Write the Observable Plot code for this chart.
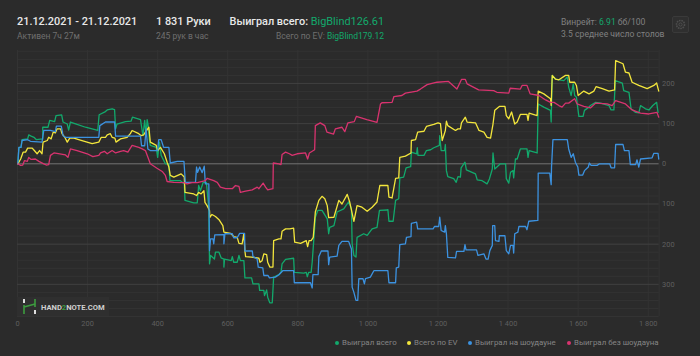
<!DOCTYPE html>
<html><head><meta charset="utf-8">
<script src="https://cdn.jsdelivr.net/npm/d3@7"></script>
<script src="https://cdn.jsdelivr.net/npm/@observablehq/plot@0.6"></script>
<style>
html,body{margin:0;padding:0;background:#2b2b2b;width:700px;height:356px;overflow:hidden;font-family:Roboto,sans-serif}
#chart{position:absolute;left:0;top:0}
.t{position:absolute;white-space:nowrap;line-height:1}
.big{font-size:10.9px;font-weight:500;color:#e8e8e8}
.sm{font-size:8.5px;color:#6f6f6f}
.r{font-size:8.6px;color:#808080}
.g{color:#12a96c}
.leg{font-size:7.9px;color:#858585}
.dot{position:absolute;width:4px;height:4px;border-radius:50%;top:341px}
</style></head><body>
<div id="chart"></div>
<script>
const xTicks=[0,200,400,600,800,1000,1200,1400,1600,1800];
const yTicks=[-300,-200,-100,0,100,200];
const yMinor=[-380,-360,-340,-320,-280,-260,-240,-220,-180,-160,-140,-120,-80,-60,-40,-20,20,40,60,80,120,140,160,180,220,240,260,280];

const greenHands=[1,4,10,13,29,32,39,47,54,72,72,87,92,106,110,126,130,142,146,151,170,194,229,233,251,256,270,277,280,284,308,324,328,351,358,363,367,370,373,376,379,396,400,405,410,422,432,435,465,476,478,503,513,517,522,530,539,546,548,551,562,565,575,581,589,589,591,610,613,617,627,632,636,646,649,668,672,689,691,703,705,711,714,720,727,731,736,746,752,755,765,788,790,817,824,827,831,838,841,846,850,857,869,884,888,891,903,912,931,945,953,955,960,966,969,988,998,1012,1026,1033,1055,1057,1060,1072,1079,1088,1091,1102,1109,1122,1124,1139,1141,1143,1160,1167,1179,1188,1204,1205,1209,1219,1221,1224,1228,1245,1252,1257,1264,1266,1277,1281,1307,1312,1326,1340,1347,1355,1357,1362,1378,1393,1395,1402,1407,1414,1416,1421,1426,1435,1454,1457,1460,1483,1486,1502,1521,1523,1526,1535,1559,1569,1573,1580,1586,1590,1595,1602,1614,1618,1631,1635,1650,1664,1688,1694,1702,1706,1726,1730,1745,1751,1764,1773,1778,1792,1802,1813,1824,1828];
const greenWon=[0,41,41,60,62,72,69,66,60,62,91,91,108,105,120,122,104,99,84,104,98,91,83,122,130,134,137,135,87,99,105,106,116,110,70,108,70,110,95,62,46,41,16,54,21,0,0,-42,-42,-50,-91,-97,-97,-54,-67,-46,-46,-112,-249,-228,-237,-220,-220,-234,-237,-257,-237,-241,-231,-245,-245,-228,-241,-241,-284,-284,-299,-299,-315,-315,-328,-314,-332,-346,-346,-282,-280,-276,-270,-249,-238,-235,-270,-272,-270,-281,-270,-270,-245,-183,-133,-116,-116,-137,-174,-158,-154,-120,-112,-95,-112,-199,-228,-232,-183,-174,-178,-162,-158,-116,-115,-114,-143,-143,-91,-87,-35,-33,-10,-7,29,25,40,21,21,33,35,40,46,70,33,33,48,-17,-32,-37,-46,-32,-33,-10,4,-15,-25,-40,-42,-50,-37,-13,27,-13,0,0,-37,-48,-21,-17,-35,12,12,37,37,16,33,27,149,141,133,104,220,211,207,216,191,170,199,170,166,118,118,133,141,145,153,151,145,134,134,207,201,182,178,137,128,127,145,137,134,145,153,128];

const yellowHands=[1,9,16,23,29,42,48,56,63,70,73,85,89,96,102,108,113,123,127,135,142,149,161,184,213,232,239,251,256,265,270,278,281,294,313,322,327,346,353,360,365,375,379,396,400,408,419,427,432,436,446,467,476,478,503,511,517,524,532,535,541,548,549,555,565,575,586,589,608,617,627,632,641,646,649,651,668,689,692,698,703,711,714,720,729,731,746,752,755,765,777,788,791,808,824,828,832,838,844,850,860,869,877,884,888,903,917,926,941,948,960,969,983,998,1012,1026,1034,1055,1057,1060,1069,1079,1088,1091,1107,1123,1124,1136,1142,1160,1167,1188,1200,1207,1212,1221,1224,1228,1250,1257,1264,1267,1278,1283,1307,1317,1331,1340,1350,1357,1362,1376,1391,1395,1402,1410,1419,1426,1435,1454,1457,1460,1483,1486,1502,1521,1523,1526,1535,1545,1564,1573,1576,1590,1595,1600,1616,1631,1645,1651,1669,1688,1704,1707,1728,1735,1745,1754,1773,1797,1816,1824,1830];
const yellowEv=[0,12,29,29,39,39,33,25,33,25,54,58,66,62,79,77,87,87,75,66,54,64,64,58,50,54,66,66,72,75,66,64,54,62,66,75,83,75,70,72,79,91,54,46,33,41,25,4,-8,-29,-33,-25,-33,-71,-75,-79,-71,-75,-67,-96,-104,-116,-133,-126,-131,-139,-154,-170,-173,-181,-183,-198,-199,-174,-217,-231,-232,-235,-245,-241,-224,-226,-245,-257,-257,-191,-187,-187,-168,-162,-162,-160,-195,-198,-191,-206,-191,-191,-183,-120,-91,-81,-87,-104,-134,-133,-91,-100,-76,-95,-143,-104,-108,-118,-108,-95,-54,-54,-54,-83,-85,-36,-35,16,19,27,58,60,79,81,93,98,102,100,58,83,106,95,83,87,87,102,116,104,102,83,79,66,64,99,133,143,143,120,112,129,99,104,123,123,108,126,120,181,174,162,145,220,211,209,220,220,203,203,195,170,181,174,181,192,187,181,184,257,249,228,226,203,195,187,195,201,181];

const blueHands=[1,4,10,13,29,37,70,75,89,94,108,111,125,130,137,151,232,235,251,277,280,322,351,354,363,367,372,379,400,403,410,417,432,436,456,475,479,508,511,514,520,527,533,536,546,548,551,558,560,563,589,589,592,613,617,627,634,648,649,670,672,684,687,700,703,715,719,736,746,757,788,790,836,841,843,858,860,867,886,888,891,912,917,926,945,953,955,960,966,971,974,986,990,993,1007,1017,1055,1057,1060,1079,1081,1088,1091,1107,1110,1123,1124,1139,1142,1186,1190,1202,1205,1209,1219,1221,1224,1228,1250,1253,1274,1277,1280,1310,1314,1331,1337,1343,1348,1355,1356,1362,1364,1374,1375,1391,1395,1402,1407,1414,1416,1419,1428,1431,1450,1454,1459,1485,1486,1519,1523,1524,1528,1569,1573,1580,1586,1592,1599,1602,1613,1618,1629,1632,1637,1654,1661,1690,1694,1704,1707,1728,1732,1745,1749,1764,1768,1773,1778,1811,1816,1828,1830];
const blueShowdown=[0,41,41,58,60,56,54,83,83,83,80,94,94,70,66,66,66,95,104,104,69,69,69,45,45,87,37,33,33,60,60,41,41,2,6,6,-46,-46,-8,-21,-8,-22,-6,-50,-50,-216,-187,-187,-199,-177,-176,-199,-174,-174,-184,-184,-173,-173,-217,-217,-231,-237,-257,-259,-278,-278,-284,-282,-276,-266,-266,-296,-296,-309,-276,-276,-231,-217,-217,-251,-232,-230,-203,-193,-193,-212,-307,-320,-340,-340,-286,-286,-299,-286,-282,-266,-266,-266,-296,-296,-259,-257,-201,-199,-183,-181,-148,-145,-162,-162,-156,-156,-133,-166,-170,-154,-174,-233,-234,-218,-218,-201,-214,-214,-228,-224,-237,-237,-216,-203,-154,-154,-191,-193,-179,-179,-216,-224,-203,-203,-222,-174,-170,-156,-156,-164,-143,-141,-23,-23,-52,-8,60,60,37,16,25,4,-8,-28,-28,-17,-8,2,-4,-4,0,0,-10,-10,48,48,33,33,-2,-2,10,-8,12,15,26,26,12];

const pinkHands=[1,9,15,20,28,32,39,51,61,75,82,89,94,104,137,144,151,170,199,215,232,237,248,256,270,280,294,303,315,327,346,356,365,379,398,413,422,427,446,475,484,498,513,536,541,560,570,579,594,613,622,632,636,651,670,684,689,701,708,714,729,730,746,752,755,765,776,784,798,822,828,833,848,850,864,877,883,902,907,926,934,943,961,967,997,1026,1036,1040,1069,1074,1097,1107,1140,1150,1169,1197,1230,1254,1267,1278,1283,1316,1359,1368,1402,1406,1435,1440,1454,1463,1488,1507,1521,1531,1545,1554,1564,1573,1590,1597,1616,1635,1650,1683,1697,1707,1735,1754,1778,1802,1825,1830];
const pinkNoShowdown=[0,-4,-3,8,6,16,11,12,6,0,-3,-2,21,27,22,16,37,33,25,18,21,27,31,25,33,27,31,33,29,46,41,37,33,0,-11,-19,-29,-44,-46,-47,-50,-47,-47,-42,-36,-42,-46,-58,-62,-62,-54,-56,-71,-68,-65,-58,-62,-48,-58,-65,-62,2,0,-2,23,29,25,21,25,27,12,27,35,95,102,95,79,74,87,91,80,102,105,118,110,103,149,152,153,167,170,176,181,186,197,203,205,186,210,210,199,184,182,178,176,188,186,195,195,174,170,159,153,153,145,141,151,151,162,149,143,139,151,149,145,157,149,134,126,124,128,116];

const seriesColors=["#12a96c","#f3e63c","#3c92e0","#d8336f"];
const legendNames=["Выиграл всего","Всего по EV","Выиграл на шоудауне","Выиграл без шоудауна"];
const seriesTable=(hands,vals)=>hands.map((h,i)=>({h,v:vals[i]}));
const fmtX=d=>d>=1000?`${Math.floor(d/1000)} ${String(d%1000).padStart(3,"0")}`:String(d);

const chart=Plot.plot({
  width:700,height:356,
  marginLeft:17,marginRight:41.4,marginTop:50,marginBottom:40,
  style:{background:"transparent",fontFamily:"Roboto,sans-serif",fontSize:"7.4px",color:"#5f5f5f"},
  x:{domain:[0,1831],label:null},
  y:{domain:[-380,282],label:null},
  marks:[
    Plot.ruleY(yMinor,{stroke:"#333333",strokeWidth:1}),
    Plot.ruleX(xTicks,{stroke:"#333333",strokeWidth:1}),
    Plot.ruleX([0,1831],{stroke:"#333333",strokeWidth:1}),
    Plot.ruleY(yTicks.filter(d=>d!==0),{stroke:"#404040",strokeWidth:1}),
    Plot.ruleY([0],{stroke:"#747474",strokeWidth:1}),
    Plot.axisX({ticks:xTicks,tickFormat:fmtX,tickSize:0,tickPadding:4,label:null,fill:"#5f5f5f"}),
    Plot.axisY({anchor:"right",ticks:yTicks,tickFormat:d=>Math.abs(d),tickSize:0,tickPadding:3,label:null,fill:"#5f5f5f"}),
    Plot.line(seriesTable(greenHands,greenWon),{x:"h",y:"v",stroke:seriesColors[0],strokeWidth:1.3}),
    Plot.line(seriesTable(yellowHands,yellowEv),{x:"h",y:"v",stroke:seriesColors[1],strokeWidth:1.3}),
    Plot.line(seriesTable(blueHands,blueShowdown),{x:"h",y:"v",stroke:seriesColors[2],strokeWidth:1.3}),
    Plot.line(seriesTable(pinkHands,pinkNoShowdown),{x:"h",y:"v",stroke:seriesColors[3],strokeWidth:1.3})
  ]
});
document.getElementById("chart").append(chart);

const add=(cls,left,top,html)=>{const d=document.createElement("div");d.className=cls;d.style.left=left+"px";d.style.top=top+"px";d.innerHTML=html;document.body.append(d);return d;};
add("t big",17,17,"21.12.2021 - 21.12.2021");
add("t sm",17,32,"Активен 7ч 27м");
add("t big",156,17,"1 831 Руки");
add("t sm",156,32,"245 рук в час");
add("t big",229.5,17,'Выиграл всего: <span class="g" style="font-weight:400">BigBlind126.61</span>');
add("t sm",276,32,'Всего по EV: <span class="g">BigBlind179.12</span>');
add("t r",561,18,'Винрейт: <span class="g">6.91</span> бб/100');
add("t r",561,30,"3.5 среднее число столов");
legendNames.forEach((n,i)=>{
  const dx=[337,409,470,569][i];
  const dot=document.createElement("div");dot.className="dot";dot.style.left=(dx-2)+"px";dot.style.background=seriesColors[i];document.body.append(dot);
  add("t leg",dx+5,339,n);
});
add("t",17,297,'<svg width="92" height="19" style="display:block"><rect width="92" height="19" fill="#2f2f2f"/><path d="M7 2v4M18 13v4" stroke="#ddd" stroke-width="2" fill="none"/><path d="M7 8v9M7 10l11-3M18 2v8" stroke="#3d9c3f" stroke-width="1.6" fill="none"/><text x="24" y="13" font-family="Roboto" font-size="7.6" font-weight="700" fill="#cfcfcf">HAND<tspan fill="#3d9c3f">2</tspan>NOTE.COM</text></svg>');
add("t",672,16,'<svg width="17" height="17" style="display:block"><rect x=".5" y=".5" width="16" height="16" rx="1.5" fill="#2f2f2f" stroke="#3a3a3a"/><circle cx="8.5" cy="8.5" r="4" fill="none" stroke="#4e4e4e" stroke-width="1.6" stroke-dasharray="1.6 .8"/><circle cx="8.5" cy="8.5" r="1.6" fill="none" stroke="#4e4e4e"/></svg>');
</script>
</body></html>
